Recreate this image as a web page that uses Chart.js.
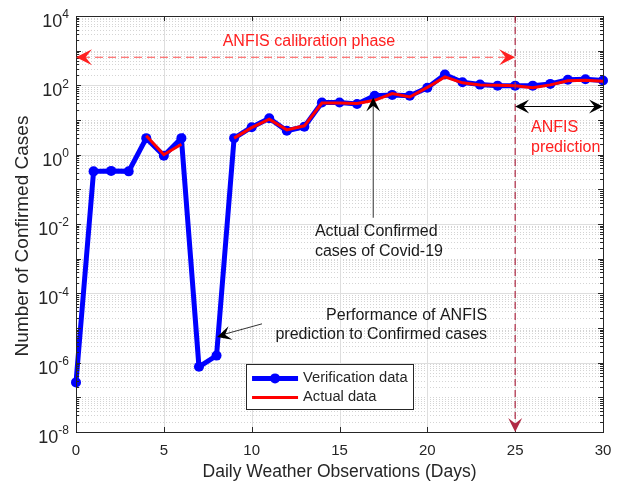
<!DOCTYPE html>
<html>
<head>
<meta charset="utf-8">
<script src="https://cdn.jsdelivr.net/npm/chart.js@4.4.0/dist/chart.umd.min.js"></script>
<style>
  html, body { margin: 0; padding: 0; background: #fff; }
</style>
</head>
<body>
<canvas id="anfis" width="624" height="485"></canvas>
<script>
var days = [0,1,2,3,4,5,6,7,8,9,10,11,12,13,14,15,16,17,18,19,20,21,22,23,24,25,26,27,28,29,30];
var verification = [2.7e-7,0.33,0.34,0.33,3.0,0.93,3.0,7.6e-7,1.6e-6,3.0,6.2,11.2,4.9,6.4,32,32,29,50,53,50,85,205,123,105,98,98,98,110,145,150,138];
var actual = [null,null,null,null,3.5,1.0,2.0,null,null,3.0,6.0,10.5,5.2,6.8,31,31,30,37,58,46,87,175,118,103,100,98,85,103,135,140,132];
var xTicks = [0,5,10,15,20,25,30];
var yTickExp = [-8,-6,-4,-2,0,2,4];

var FONT = '"Liberation Sans", Arial, sans-serif';
var TXT = '#262626';

function pts(vals) {
  return days.map(function (d, i) { return { x: d, y: vals[i] }; });
}

function arrowHead(ctx, x0, y0, x1, y1, color, size) {
  var a = Math.atan2(y1 - y0, x1 - x0);
  var s = size || 10;
  ctx.save();
  ctx.translate(x1, y1);
  ctx.rotate(a);
  ctx.fillStyle = color;
  ctx.beginPath();
  ctx.moveTo(0, 0);
  ctx.lineTo(-s, -s * 0.5);
  ctx.lineTo(-s * 0.6, 0);
  ctx.lineTo(-s, s * 0.5);
  ctx.closePath();
  ctx.fill();
  ctx.restore();
}

var matlabAxes = {
  id: 'matlabAxes',
  beforeDatasetsDraw: function (chart) {
    var ctx = chart.ctx, a = chart.chartArea;
    var xs = chart.scales.x, ys = chart.scales.y;
    ctx.save();
    // minor dotted grid
    ctx.strokeStyle = '#d4d4d4';
    ctx.lineWidth = 1;
    ctx.setLineDash([1, 2]);
    for (var e = -8; e < 4; e++) {
      for (var m = 1; m < 10; m++) {
        if (m === 1 && e % 2 === 0) continue;
        var py = Math.round(ys.getPixelForValue(m * Math.pow(10, e))) + 0.5;
        ctx.beginPath(); ctx.moveTo(a.left, py); ctx.lineTo(a.right, py); ctx.stroke();
      }
    }
    ctx.setLineDash([]);
    // major grid
    ctx.strokeStyle = '#dedede';
    yTickExp.forEach(function (e) {
      var py = Math.round(ys.getPixelForValue(Math.pow(10, e))) + 0.5;
      ctx.beginPath(); ctx.moveTo(a.left, py); ctx.lineTo(a.right, py); ctx.stroke();
    });
    xTicks.forEach(function (t) {
      var px = Math.round(xs.getPixelForValue(t)) + 0.5;
      ctx.beginPath(); ctx.moveTo(px, a.top); ctx.lineTo(px, a.bottom); ctx.stroke();
    });
    ctx.restore();
  },
  afterDatasetsDraw: function (chart) {
    var ctx = chart.ctx, a = chart.chartArea;
    var xs = chart.scales.x, ys = chart.scales.y;
    var X = function (v) { return xs.getPixelForValue(v); };
    var Y = function (v) { return ys.getPixelForValue(Math.pow(10, v)); };
    ctx.save();

    // box and ticks
    ctx.strokeStyle = TXT;
    ctx.lineWidth = 1;
    ctx.strokeRect(a.left + 0.5, a.top + 0.5, a.right - a.left, a.bottom - a.top);
    ctx.beginPath();
    for (var e = -8; e < 4; e++) {
      for (var m = 1; m < 10; m++) {
        var py = Math.round(ys.getPixelForValue(m * Math.pow(10, e))) + 0.5;
        var len = m === 1 ? 5 : 3;
        ctx.moveTo(a.left, py); ctx.lineTo(a.left + len, py);
        ctx.moveTo(a.right, py); ctx.lineTo(a.right - len, py);
      }
    }
    xTicks.forEach(function (t) {
      var px = Math.round(X(t)) + 0.5;
      ctx.moveTo(px, a.bottom); ctx.lineTo(px, a.bottom - 5);
      ctx.moveTo(px, a.top); ctx.lineTo(px, a.top + 5);
    });
    ctx.stroke();

    // tick labels
    ctx.fillStyle = TXT;
    ctx.textBaseline = 'middle';
    ctx.textAlign = 'center';
    ctx.font = '15px ' + FONT;
    xTicks.forEach(function (t) { ctx.fillText(String(t), X(t), a.bottom + 19); });
    yTickExp.forEach(function (e) {
      var py = ys.getPixelForValue(Math.pow(10, e));
      var sup = String(e);
      ctx.font = '12px ' + FONT;
      var sw = ctx.measureText(sup).width;
      ctx.textAlign = 'right';
      ctx.fillText(sup, a.left - 7, py - 1);
      ctx.font = '18px ' + FONT;
      ctx.fillText('10', a.left - 7 - sw, py + 6);
    });

    // axis titles
    ctx.textAlign = 'center';
    ctx.font = '17.5px ' + FONT;
    ctx.fillText('Daily Weather Observations (Days)', (a.left + a.right) / 2, a.bottom + 40);
    ctx.save();
    ctx.translate(23, (a.top + a.bottom) / 2 + 12);
    ctx.rotate(-Math.PI / 2);
    ctx.font = '19px ' + FONT;
    ctx.fillText('Number of Confirmed Cases', 0, 0);
    ctx.restore();

    // calibration phase double arrow
    var red = '#ff2020';
    ctx.strokeStyle = '#ff5050';
    ctx.lineWidth = 1.2;
    ctx.setLineDash([8, 5]);
    var cy = Y(2.81);
    ctx.beginPath(); ctx.moveTo(X(0) + 6, cy); ctx.lineTo(X(25) - 6, cy); ctx.stroke();
    ctx.setLineDash([]);
    arrowHead(ctx, X(25), cy, X(0), cy, red, 16);
    arrowHead(ctx, X(0), cy, X(25), cy, red, 16);
    ctx.fillStyle = red;
    ctx.font = '16px ' + FONT;
    ctx.textAlign = 'center';
    ctx.fillText('ANFIS calibration phase', X(13.26), Y(3.27));

    // split line at day 25
    var maroon = '#b02a45';
    ctx.strokeStyle = maroon;
    ctx.lineWidth = 1.2;
    ctx.setLineDash([7, 4]);
    ctx.beginPath(); ctx.moveTo(X(25), a.top); ctx.lineTo(X(25), a.bottom - 8); ctx.stroke();
    ctx.setLineDash([]);
    arrowHead(ctx, X(25), a.top, X(25), a.bottom, maroon, 14);

    // prediction double arrow
    var py2 = Y(1.39);
    ctx.strokeStyle = '#000';
    ctx.lineWidth = 1.2;
    ctx.beginPath(); ctx.moveTo(X(25) + 6, py2); ctx.lineTo(X(30) - 6, py2); ctx.stroke();
    arrowHead(ctx, X(30), py2, X(25), py2, '#000', 14);
    arrowHead(ctx, X(25), py2, X(30), py2, '#000', 14);
    ctx.fillStyle = red;
    ctx.textAlign = 'left';
    ctx.fillText('ANFIS', X(25.9), Y(0.78));
    ctx.fillText('prediction', X(25.9), Y(0.2));

    // actual confirmed arrow
    ctx.strokeStyle = '#333';
    ctx.lineWidth = 1;
    ctx.beginPath(); ctx.moveTo(X(16.92), Y(-1.82)); ctx.lineTo(X(16.92), Y(1.5)); ctx.stroke();
    arrowHead(ctx, X(16.92), Y(-1.82), X(16.92), Y(1.65), '#000', 14);
    ctx.fillStyle = '#1a1a1a';
    ctx.fillText('Actual Confirmed', X(13.6), Y(-2.23));
    ctx.fillText('cases of Covid-19', X(13.6), Y(-2.8));

    // performance arrow
    ctx.beginPath(); ctx.moveTo(X(10.59), Y(-4.88)); ctx.lineTo(X(8.3), Y(-5.2)); ctx.stroke();
    arrowHead(ctx, X(10.59), Y(-4.88), X(8.03), Y(-5.26), '#000', 14);
    ctx.textAlign = 'right';
    ctx.fillText('Performance of ANFIS', X(23.4), Y(-4.65));
    ctx.fillText('prediction to Confirmed cases', X(23.4), Y(-5.2));

    // legend
    var lx0 = X(9.68), lx1 = X(19.18), ly0 = Y(-6.05), ly1 = Y(-7.35);
    ctx.fillStyle = '#fff';
    ctx.fillRect(lx0, ly0, lx1 - lx0, ly1 - ly0);
    ctx.strokeStyle = TXT;
    ctx.lineWidth = 1;
    ctx.strokeRect(Math.round(lx0) + 0.5, Math.round(ly0) + 0.5, Math.round(lx1 - lx0), Math.round(ly1 - ly0));
    var ds = chart.data.datasets;
    var rows = [ly0 + 14, ly0 + 33];
    ds.forEach(function (d, i) {
      ctx.strokeStyle = d.borderColor;
      ctx.lineWidth = d.borderWidth;
      ctx.beginPath(); ctx.moveTo(lx0 + 6, rows[i]); ctx.lineTo(lx0 + 52, rows[i]); ctx.stroke();
      if (d.pointRadius > 0) {
        ctx.fillStyle = d.borderColor;
        ctx.beginPath(); ctx.arc(lx0 + 29, rows[i], d.pointRadius, 0, Math.PI * 2); ctx.fill();
      }
      ctx.fillStyle = TXT;
      ctx.textAlign = 'left';
      ctx.font = '14.7px ' + FONT;
      ctx.fillText(d.label, lx0 + 57, rows[i]);
    });
    ctx.restore();
  }
};

var ctx = document.getElementById('anfis');
var chart = new Chart(ctx, {
  type: 'line',
  data: {
    datasets: [
      {
        label: 'Verification data',
        data: pts(verification),
        borderColor: '#0000ff',
        backgroundColor: '#0000ff',
        borderWidth: 5,
        pointRadius: 5,
        pointBackgroundColor: '#0000ff',
        pointBorderWidth: 0,
        tension: 0,
        clip: false,
        order: 1
      },
      {
        label: 'Actual data',
        data: pts(actual),
        borderColor: '#ff0000',
        backgroundColor: '#ff0000',
        borderWidth: 3,
        pointRadius: 0,
        spanGaps: false,
        tension: 0,
        clip: false,
        order: 0
      }
    ]
  },
  options: {
    responsive: false,
    animation: false,
    layout: { padding: { left: 76, right: 21, top: 16, bottom: 53 } },
    plugins: { legend: { display: false }, tooltip: { enabled: false } },
    scales: {
      x: { type: 'linear', min: 0, max: 30, display: false },
      y: { type: 'logarithmic', min: 1e-8, max: 1e4, display: false }
    }
  },
  plugins: [matlabAxes]
});
</script>
</body>
</html>
